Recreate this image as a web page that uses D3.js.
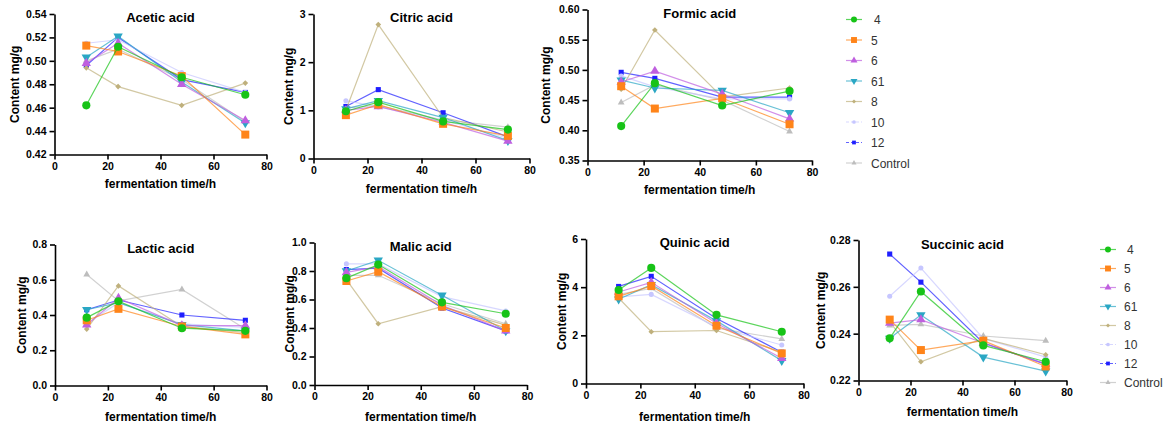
<!DOCTYPE html>
<html>
<head>
<meta charset="utf-8">
<script src="https://cdn.jsdelivr.net/npm/d3@7"></script>
<style>
  body { margin: 0; background: #fff; }
  svg text { font-family: "Liberation Sans", Arial, sans-serif; }
</style>
</head>
<body>
<svg id="chart" width="1169" height="429"></svg>
<script>
// Sampling times (h) and strain series
const times = [12, 24, 48, 72];
const seriesNames = ["4", "5", "6", "61", "8", "10", "12", "Control"];
const xTicks = [0, 20, 40, 60, 80];

// Organic acid contents (mg/g), one row per series in seriesNames order
const acetic = [
  [0.462, 0.512, 0.486, 0.471],
  [0.513, 0.508, 0.487, 0.437],
  [0.498, 0.515, 0.480, 0.449],
  [0.503, 0.521, 0.482, 0.447],
  [0.494, 0.478, 0.462, 0.481],
  [0.515, 0.518, 0.490, 0.473],
  [0.496, 0.520, 0.484, 0.473],
  [0.500, 0.510, 0.484, 0.448]
];
const citric = [
  [0.98, 1.17, 0.77, 0.60],
  [0.90, 1.12, 0.72, 0.47],
  [1.00, 1.08, 0.75, 0.36],
  [1.03, 1.20, 0.85, 0.37],
  [1.00, 2.78, 0.85, 0.55],
  [1.20, 1.07, 0.80, 0.42],
  [1.08, 1.43, 0.95, 0.45],
  [1.05, 1.10, 0.80, 0.65]
];
const formic = [
  [0.407, 0.478, 0.441, 0.465],
  [0.473, 0.436, 0.453, 0.410],
  [0.480, 0.498, 0.460, 0.419],
  [0.483, 0.470, 0.466, 0.429],
  [0.468, 0.566, 0.455, 0.470],
  [0.490, 0.472, 0.452, 0.452],
  [0.496, 0.486, 0.455, 0.455],
  [0.446, 0.475, 0.450, 0.398]
];
const lactic = [
  [0.385, 0.478, 0.325, 0.310],
  [0.370, 0.435, 0.335, 0.290],
  [0.345, 0.495, 0.340, 0.340],
  [0.430, 0.470, 0.345, 0.310],
  [0.320, 0.565, 0.335, 0.300],
  [0.350, 0.470, 0.350, 0.330],
  [0.430, 0.485, 0.400, 0.370],
  [0.630, 0.480, 0.545, 0.320]
];
const malic = [
  [0.75, 0.845, 0.58, 0.50],
  [0.73, 0.795, 0.55, 0.40],
  [0.79, 0.830, 0.56, 0.38],
  [0.80, 0.875, 0.63, 0.38],
  [0.74, 0.430, 0.55, 0.42],
  [0.85, 0.850, 0.62, 0.52],
  [0.81, 0.820, 0.54, 0.38],
  [0.77, 0.770, 0.57, 0.43]
];
const quinic = [
  [3.88, 4.80, 2.85, 2.15],
  [3.62, 4.05, 2.40, 1.25],
  [3.80, 4.20, 2.50, 1.05],
  [3.50, 4.10, 2.60, 0.95],
  [3.55, 2.15, 2.20, 1.30],
  [3.60, 3.70, 2.35, 1.60],
  [4.03, 4.45, 2.70, 1.30],
  [3.70, 3.95, 2.30, 1.85]
];
const succinic = [
  [0.238, 0.258, 0.235, 0.228],
  [0.246, 0.233, 0.237, 0.226],
  [0.2445, 0.246, 0.236, 0.227],
  [0.238, 0.248, 0.230, 0.224],
  [0.245, 0.228, 0.238, 0.231],
  [0.256, 0.268, 0.238, 0.230],
  [0.274, 0.262, 0.236, 0.227],
  [0.2435, 0.244, 0.239, 0.237]
];

// Y tick values per panel
const aceticTicks = [0.42, 0.44, 0.46, 0.48, 0.50, 0.52, 0.54];
const citricTicks = [0, 1, 2, 3];
const formicTicks = [0.35, 0.40, 0.45, 0.50, 0.55, 0.60];
const lacticTicks = [0.0, 0.2, 0.4, 0.6, 0.8];
const malicTicks = [0.0, 0.2, 0.4, 0.6, 0.8, 1.0];
const quinicTicks = [0, 2, 4, 6];
const succinicTicks = [0.22, 0.24, 0.26, 0.28];

// Series styling
const colors = ["#17c317", "#ff8419", "#bf5fdf", "#2aa7c4", "#bfb07c", "#c6c6ff", "#1f1fff", "#bdbdbd"];
const shapes = [
  { type: d3.symbolCircle, size: 52, rot: 0 },
  { type: d3.symbolSquare, size: 64, rot: 0 },
  { type: d3.symbolTriangle, size: 38, rot: 0 },
  { type: d3.symbolTriangle, size: 38, rot: 180 },
  { type: d3.symbolSquare, size: 16, rot: 45 },
  { type: d3.symbolCircle, size: 20, rot: 0 },
  { type: d3.symbolSquare, size: 26, rot: 0 },
  { type: d3.symbolTriangle, size: 20, rot: 0 }
];
const dashed = [false, false, false, false, false, true, true, false];

// Panel layout
const panels = [
  { title: "Acetic acid", data: acetic, ticks: aceticTicks, fmt: ".2f", L: 54.5, R: 266.5, T: 14, B: 154.5, yl: 15, xl: 188, ty: 22 },
  { title: "Citric acid", data: citric, ticks: citricTicks, fmt: "d", L: 313.5, R: 529.5, T: 14, B: 158.5, yl: 288.5, xl: 193, ty: 22 },
  { title: "Formic acid", data: formic, ticks: formicTicks, fmt: ".2f", L: 587.5, R: 812, T: 9.5, B: 160.5, yl: 545.5, xl: 194, ty: 18 },
  { title: "Lactic acid", data: lactic, ticks: lacticTicks, fmt: ".1f", L: 55, R: 266.5, T: 244.5, B: 385.5, yl: 22, xl: 421, ty: 253 },
  { title: "Malic acid", data: malic, ticks: malicTicks, fmt: ".1f", L: 314.5, R: 527, T: 242.5, B: 385, yl: 290, xl: 421, ty: 251 },
  { title: "Quinic acid", data: quinic, ticks: quinicTicks, fmt: "d", L: 586, R: 803.5, T: 239, B: 383.5, yl: 562, xl: 421, ty: 247 },
  { title: "Succinic acid", data: succinic, ticks: succinicTicks, fmt: ".2f", L: 858.5, R: 1066.5, T: 240, B: 380.5, yl: 821, xl: 416, ty: 249 }
];

const svg = d3.select("#chart");

function styleAxis(sel) {
  sel.select(".domain").attr("stroke", "#000").attr("stroke-width", 1.6);
  sel.selectAll(".tick line").attr("stroke", "#000").attr("stroke-width", 1.6);
  sel.selectAll(".tick text")
    .attr("fill", "#000")
    .style("font-family", '"Liberation Sans", Arial, sans-serif')
    .style("font-size", "10.5px")
    .style("font-weight", "bold");
}

function drawPanel(p) {
  const x = d3.scaleLinear().domain([xTicks[0], xTicks[xTicks.length - 1]]).range([p.L, p.R]);
  const y = d3.scaleLinear().domain([p.ticks[0], p.ticks[p.ticks.length - 1]]).range([p.B, p.T]);
  const g = svg.append("g");

  g.append("g")
    .attr("transform", `translate(0,${p.B})`)
    .call(d3.axisBottom(x).tickValues(xTicks).tickSizeInner(5).tickSizeOuter(0).tickPadding(3).tickFormat(d3.format("d")))
    .call(styleAxis);

  g.append("g")
    .attr("transform", `translate(${p.L},0)`)
    .call(d3.axisLeft(y).tickValues(p.ticks).tickSizeInner(5).tickSizeOuter(0).tickPadding(3).tickFormat(d3.format(p.fmt)))
    .call(styleAxis);

  // Titles
  g.append("text")
    .attr("x", (p.L + p.R) / 2).attr("y", p.ty)
    .attr("text-anchor", "middle")
    .style("font-size", "13px").style("font-weight", "bold")
    .text(p.title);

  g.append("text")
    .attr("x", (p.L + p.R) / 2).attr("y", p.xl)
    .attr("text-anchor", "middle")
    .style("font-size", "12px").style("font-weight", "bold")
    .text("fermentation time/h");

  g.append("text")
    .attr("transform", `translate(${p.yl + 4},${(p.T + p.B) / 2}) rotate(-90)`)
    .attr("text-anchor", "middle")
    .style("font-size", "12px").style("font-weight", "bold")
    .text("Content mg/g");

  const line = d3.line().x((d, i) => x(times[i])).y(d => y(d));

  // Draw series back to front so the first series sits on top
  for (let s = seriesNames.length - 1; s >= 0; s--) {
    const vals = p.data[s];
    g.append("path")
      .attr("d", line(vals))
      .attr("fill", "none")
      .attr("stroke", colors[s])
      .attr("stroke-opacity", 0.7)
      .attr("stroke-width", 1.2);
    const sym = d3.symbol().type(shapes[s].type).size(shapes[s].size);
    g.selectAll(null)
      .data(vals)
      .join("path")
      .attr("d", sym)
      .attr("transform", (d, i) => `translate(${x(times[i])},${y(d)}) rotate(${shapes[s].rot})`)
      .attr("fill", colors[s]);
  }
}

panels.forEach(drawPanel);

// Legends
function drawLegend(x0, y0, step, textX) {
  const g = svg.append("g");
  seriesNames.forEach((name, s) => {
    const yy = y0 + s * step;
    g.append("line")
      .attr("x1", x0).attr("x2", x0 + 16)
      .attr("y1", yy).attr("y2", yy)
      .attr("stroke", colors[s])
      .attr("stroke-opacity", 0.7)
      .attr("stroke-width", 1.2)
      .attr("stroke-dasharray", dashed[s] ? "3,2" : null);
    g.append("path")
      .attr("d", d3.symbol().type(shapes[s].type).size(shapes[s].size * 0.55)())
      .attr("transform", `translate(${x0 + 8},${yy}) rotate(${shapes[s].rot})`)
      .attr("fill", colors[s]);
    g.append("text")
      .attr("x", textX + (name === "4" ? 3 : 0))
      .attr("y", yy + 4.5)
      .attr("fill", "#333")
      .style("font-size", "12px")
      .text(name);
  });
}
drawLegend(846, 19.5, 20.5, 871);
drawLegend(1100, 249.5, 19, 1124);
</script>
</body>
</html>
